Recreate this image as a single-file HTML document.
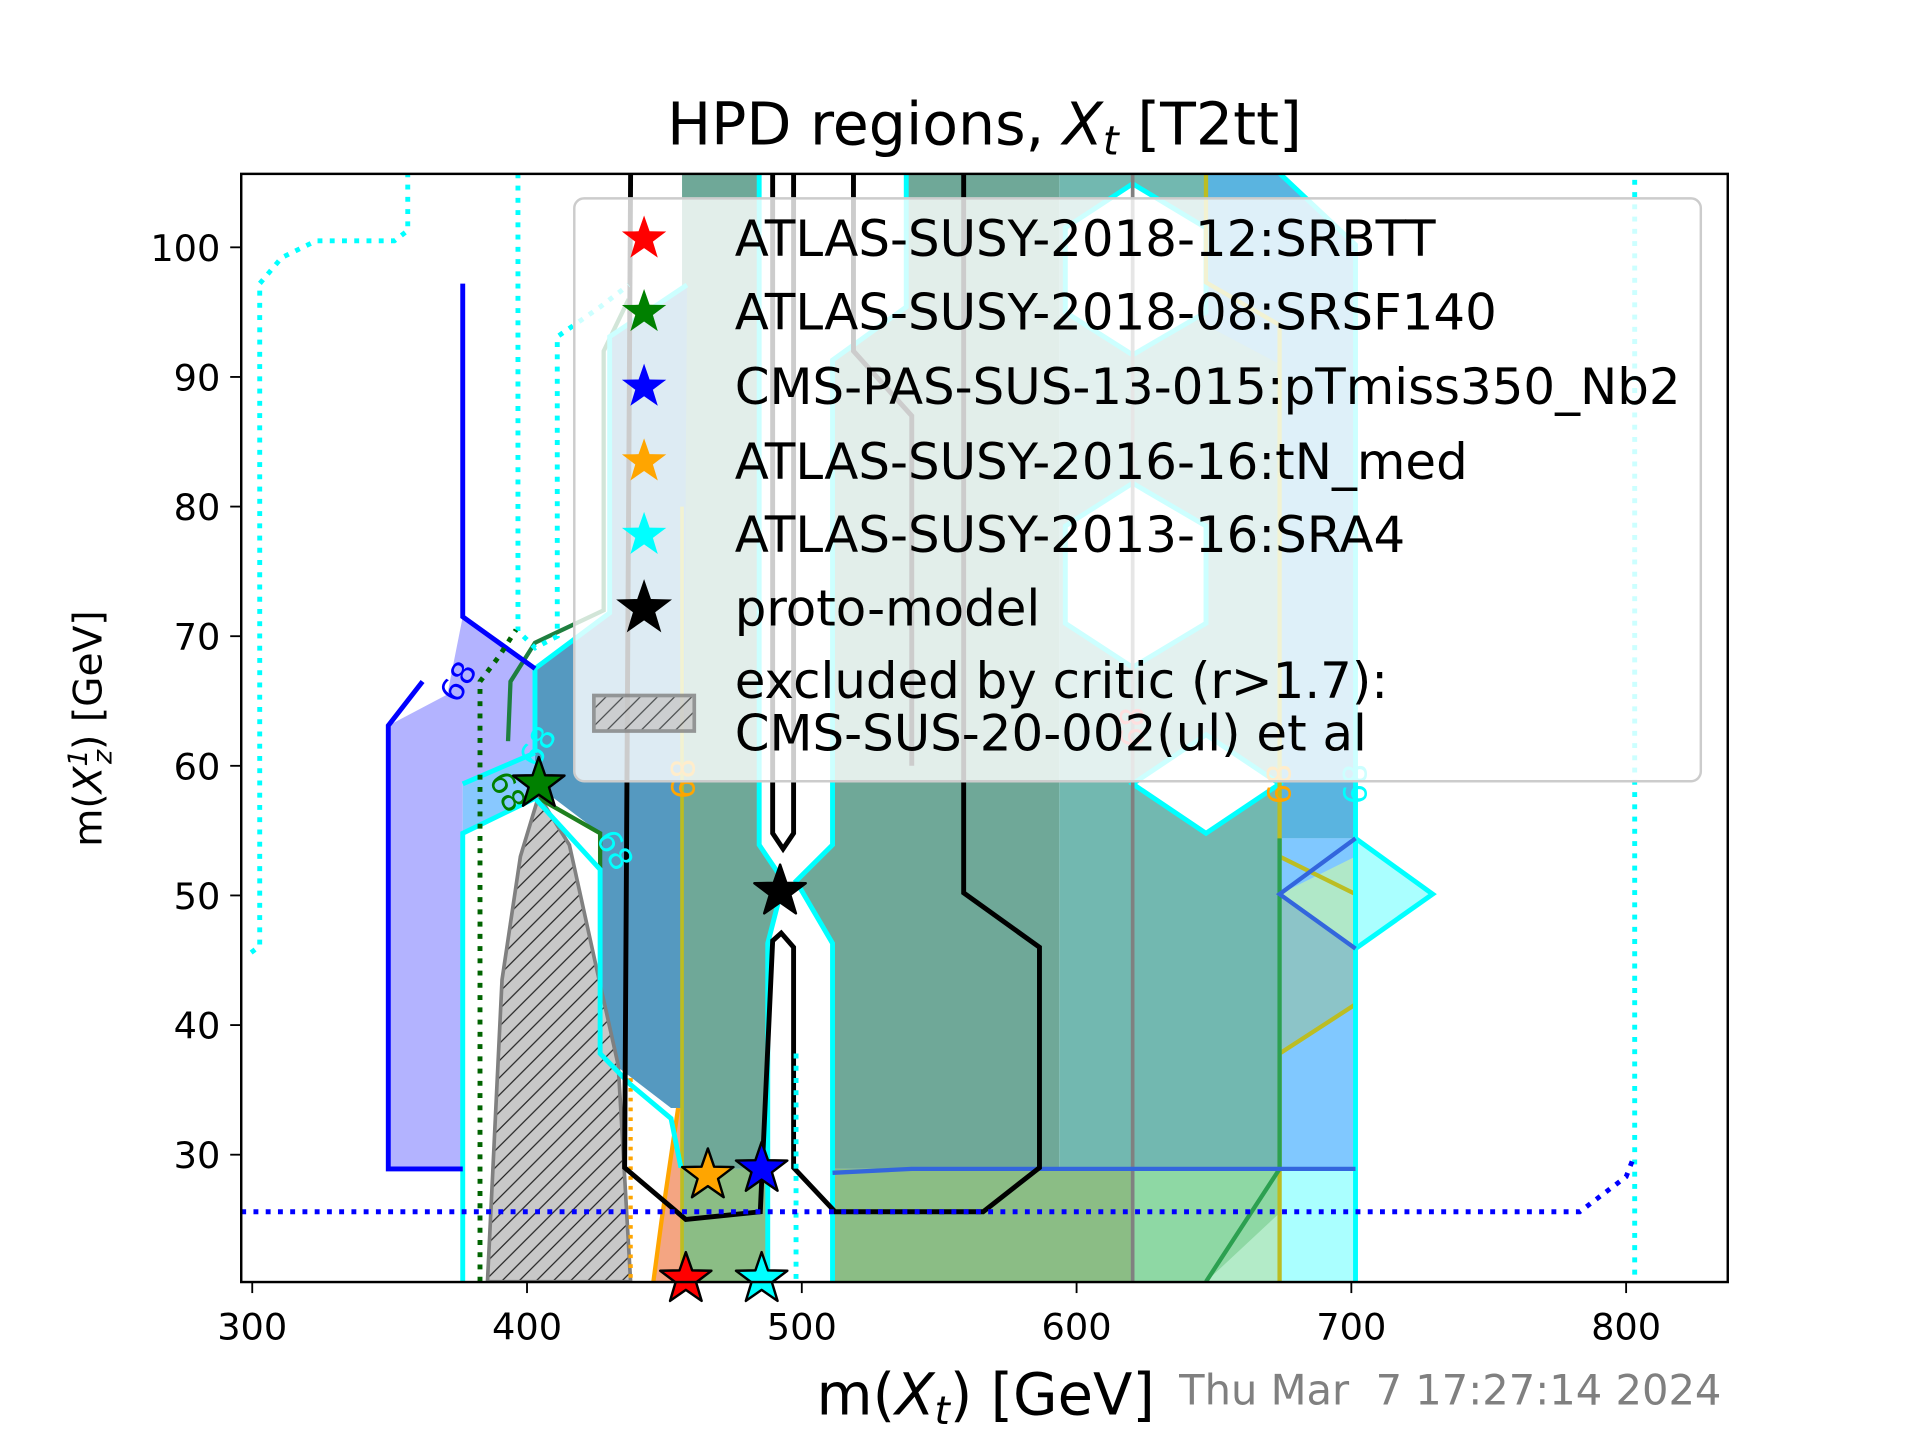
<!DOCTYPE html>
<html><head><meta charset="utf-8">
<style>
html,body{margin:0;padding:0;background:#fff;}
svg{display:block;font-family:"DejaVu Sans","Liberation Sans",sans-serif;}
</style></head>
<body>
<svg id="chart" width="1920" height="1440" viewBox="0 0 1568 1176" xmlns="http://www.w3.org/2000/svg">
<defs>
<clipPath id="plotclip"><rect x="197" y="142" width="1214" height="905"/></clipPath>
<pattern id="hatch" patternUnits="userSpaceOnUse" width="14" height="14">
<rect width="14" height="14" fill="#c8c8c8"/>
<path d="M-4,18 L18,-4 M-4,4 L4,-4 M10,18 L18,10" stroke="#222" stroke-width="1"/>
</pattern>
</defs>
<text x="804" y="118" font-size="47.8" text-anchor="middle">HPD regions, <tspan font-style="italic">X</tspan><tspan font-style="italic" font-size="33" dy="8">t</tspan><tspan dy="-8"> [T2tt]</tspan></text>
<g id="plot" clip-path="url(#plotclip)"></g>
<g id="over"></g>
<rect x="197" y="142" width="1214" height="905" fill="none" stroke="#000" stroke-width="2"/>
<g id="axes"></g>
<text x="805" y="1155" font-size="47" text-anchor="middle">m(<tspan font-style="italic">X</tspan><tspan font-style="italic" font-size="32" dy="8">t</tspan><tspan dy="-8">) [GeV]</tspan></text>
<text transform="translate(83,595) rotate(-90)" font-size="32" text-anchor="middle">m(<tspan font-style="italic">X</tspan><tspan font-style="italic" font-size="22" dy="-12">1</tspan><tspan font-style="italic" font-size="22" dx="-12" dy="20">z</tspan><tspan dy="-8">) [GeV]</tspan></text>
<text x="963" y="1147" font-size="34" fill="#808080" style="white-space:pre" xml:space="preserve">Thu Mar  7 17:27:14 2024</text>
<g id="legend"></g>
</svg>
<script>
// axis data
const xTicks = [300, 400, 500, 600, 700, 800];
const yTicks = [30, 40, 50, 60, 70, 80, 90, 100];
const xRange = [296, 837];
const yRange = [20.2, 105.7];
// region polygons (mass coordinates, GeV)
const lavenderRegion = [[349.5,28.9],[349.5,63.1],[371,65.5],[376.6,71.5],[402.9,67.5],[402.9,58.6],[376.6,58.6],[376.6,28.9]];
const lightBluePatch = [[376.6,54.8],[376.6,58.6],[402.9,61],[402.9,57.5]];
const greyGreenRegion = [[456.4,28.9],[456.4,105.7],[593.7,105.7],[593.7,28.9]];
const steelBlueRegion = [[458.2,97.1],[430.1,93.1],[430.1,71.8],[402.9,67.5],[402.9,58.6],[426.6,54.8],[426.6,37.8],[452.4,33.6],[456.4,33.6]];
const greenBottom = [[456.4,20.2],[456.4,28.9],[620.4,28.9],[620.4,20.2]];
const salmonRegion = [[446,20.2],[449,25],[455,33.6],[456.4,33.6],[456.4,20.2]];
const tealRegion = [[593.7,28.9],[593.7,105.7],[673.9,105.7],[673.9,28.9]];
const lightGreenBottom = [[620.4,20.2],[620.4,28.9],[673.9,28.9],[673.9,20.2]];
const paleGreenTri = [[647.1,20.2],[673.9,25.5],[673.9,20.2]];
const skyTop = [[647.1,105.7],[673.9,105.7],[701.5,100.2],[701.5,54.4],[673.9,54.4],[673.9,91],[647.1,94]];
const skyLower = [[673.9,28.9],[673.9,54.4],[701.5,54.4],[701.5,28.9]];
const greyTealPatch = [[673.9,50.1],[701.5,45.9],[701.5,41.6],[673.9,37.8]];
const diamondGreen = [[673.9,50.1],[701.5,53],[701.5,45.9]];
const cyanDiamond = [[701.5,54.4],[729.6,50.1],[701.5,45.9]];
const cyanBottom = [[673.9,20.2],[673.9,28.9],[701.5,28.9],[701.5,20.2]];
const corridor = [[484.5,105.7],[538,105.7],[538,95.4],[511.2,91.3],[511.2,53.9],[497.9,51.1],[511.2,46.3],[511.2,20.2],[487.6,20.2],[487.6,46.3],[493.4,51.1],[484.5,53.9]];
const hexTop = [[595.9,101.5],[620.4,104.9],[647.1,101.5],[647.1,95],[620.4,91.7],[595.9,95]];
const hexMid = [[595.9,78.5],[620.4,81.8],[647.1,78.5],[647.1,71],[620.4,67.6],[595.9,71]];
const hexDiamond = [[620.4,58.6],[647.1,62.4],[673.9,58.6],[647.1,54.8]];
const criticRegion = [[385.6,20.2],[390.9,43.5],[397.6,53],[404.3,57.7],[415.4,53.9],[425.2,44.5],[433.2,36.9],[437.7,20.2]];
// contour lines
const protoOuter = [[437.7,105.7],[435.5,29],[457.8,25],[484.9,25.6],[489.4,46.5],[492.5,47.1],[497,46],[497,29],[512.1,25.6],[566,25.6],[586.5,29],[586.5,46],[558.9,50.2],[558.9,105.7]];
const protoLoop = [[489.4,105.7],[489.4,54.8],[493.2,53.6],[497,54.8],[497,105.7]];
const protoFaded = [[518.8,105.7],[518.8,92],[540,87],[540,60]];
const blueLine1 = [[376.6,97.2],[376.6,71.5],[402.9,67.5]];
const blueLine2 = [[362,66.5],[349.5,63.1],[349.5,28.9],[376.6,28.9]];
const blueLine3 = [[511.2,28.6],[540,28.9],[701.5,28.9]];
const blueDiamond = [[701.5,54.4],[673.9,50.1],[701.5,45.9]];
const cyanMain = [[376.6,20.2],[376.6,54.8],[402.9,57.5],[426.6,52],[426.6,37.8],[437.7,35.4],[452.4,32.8],[456,29]];
const cyanUpper = [[376.6,58.6],[402.9,61]];
const cyanWall = [[458.2,97.1],[430.1,93.1],[430.1,71.8],[402.9,67.5],[402.9,61]];
const corridorLeft = [[484.5,105.7],[484.5,53.9],[493.4,51.1],[487.6,46.3],[487.6,20.2]];
const corridorRight = [[538,105.7],[538,95.4],[511.2,91.3],[511.2,53.9],[497.9,51.1],[511.2,46.3],[511.2,20.2]];
const cyanRightCol = [[673.9,105.7],[701.5,100.2],[701.5,20.2]];
const greenLine = [[393.1,61.9],[394,66.5],[402.9,69.5],[427.9,72],[427.9,92],[437,96]];
const greenLower = [[404.3,57.5],[426.6,54.8],[426.6,37.8],[437.7,35.4]];
const greenRight = [[673.9,54.4],[673.9,28.9],[647.1,20.2]];
const oliveLeft = [[456.4,80],[456.4,20.2]];
const oliveRight = [[647.1,105.7],[647.1,97.3],[673.9,94],[673.9,53],[701.5,50.1],[701.5,41.6],[673.9,37.8],[673.9,20.2]];
const greyLine = [[620.4,105.7],[620.4,20.2]];
const orangeLine = [[446,20.2],[449,25],[455,33.6]];
const orangeDotted = [[437.7,35.9],[437.7,20.2]];
const cyanDotted1 = [[299.6,45.6],[302.7,46.1],[302.7,97.2],[310.7,99.2],[323.2,100.5],[351.7,100.5],[356.6,101.3],[356.6,105.7]];
const cyanDotted2 = [[396.7,105.7],[396.7,70.4],[403,69.1],[411,70],[411,93.1],[426.6,95.4],[437,97.1]];
const cyanDotted3 = [[803.1,105.2],[803.1,20.2]];
const cyanDotted4 = [[497.9,37.8],[497.9,20.2]];
const greenDotted = [[382.9,20.2],[382.9,66.5],[390,68.5],[396,70.5]];
const blueDotted = [[296,25.6],[783.1,25.6],[800,28.3],[803.1,30]];
// markers
const starNames = ["ATLAS-SUSY-2018-12:SRBTT","ATLAS-SUSY-2018-08:SRSF140","CMS-PAS-SUS-13-015:pTmiss350_Nb2","ATLAS-SUSY-2016-16:tN_med","ATLAS-SUSY-2013-16:SRA4","proto-model"];
const starColors = ["#ff0000","#008000","#0000ff","#ffa500","#00ffff","#000000"];
const starX = [457.8, 404.3, 485.4, 465.8, 485.4, 492.1];
const starY = [20.4, 58.6, 28.9, 28.4, 20.4, 50.3];
// contour labels
const labelText = ["68","68","68","68","68","68","68","68"];
const labelX = [375, 404, 393, 432, 457, 673.9, 701.5, 620.4];
const labelY = [66.5, 61.5, 58, 53.5, 59, 58.6, 58.6, 63];
const labelColors = ["#0000ff","#00ffff","#008000","#00ffff","#ffa500","#ffa500","#00ffff","#ff6060"];
const labelRot = [-60, -60, 60, 60, -90, -90, -90, -90];

const NS = "http://www.w3.org/2000/svg";
function X(v){ return 206 + (v - 300) * 2.244; }
function Y(v){ return 943 - (v - 30) * 10.586; }
function pts(a){ return a.map(p => X(p[0]).toFixed(1) + "," + Y(p[1]).toFixed(1)).join(" "); }
const plot = document.getElementById("plot");
function poly(parent, name, a, fill, stroke, sw){
  const el = document.createElementNS(NS, "polygon");
  
  
  el.setAttribute("points", pts(a));
  el.setAttribute("fill", fill);
  el.setAttribute("stroke", stroke || "none");
  el.setAttribute("stroke-width", sw || 0);
  parent.appendChild(el);
  return el;
}
function line(parent, name, a, stroke, sw, dash){
  const el = document.createElementNS(NS, "polyline");
  
  
  el.setAttribute("points", pts(a));
  el.setAttribute("fill", "none");
  el.setAttribute("stroke", stroke);
  el.setAttribute("stroke-width", sw);
  if (dash) el.setAttribute("stroke-dasharray", dash);
  parent.appendChild(el);
  return el;
}
poly(plot, "grey-green-region", greyGreenRegion, "#6fa898");
poly(plot, "teal-region", tealRegion, "#72b8b0");
poly(plot, "steel-blue-region", steelBlueRegion, "#5599c0");
poly(plot, "green-bottom-region", greenBottom, "#8bbd85");
poly(plot, "salmon-region", salmonRegion, "#f4a582");
poly(plot, "light-green-bottom", lightGreenBottom, "#8ed8a4");
poly(plot, "pale-green-triangle", paleGreenTri, "#b3ebc8");
poly(plot, "sky-top-region", skyTop, "#5ab4e0");
poly(plot, "sky-lower-region", skyLower, "#80c8ff");
poly(plot, "grey-teal-patch", greyTealPatch, "#8cc4c8");
poly(plot, "diamond-green", diamondGreen, "#b0e8c8");
poly(plot, "cyan-diamond", cyanDiamond, "#aaffff", "#00ffff", 4);
poly(plot, "cyan-bottom-region", cyanBottom, "#aaffff");
poly(plot, "lavender-region", lavenderRegion, "#b3b3ff");
poly(plot, "light-blue-patch", lightBluePatch, "#88c8ff");
poly(plot, "proto-corridor", corridor, "#ffffff");
poly(plot, "hex-hole-top", hexTop, "#ffffff", "#00ffff", 4);
poly(plot, "hex-hole-mid", hexMid, "#ffffff", "#00ffff", 4);
poly(plot, "hex-hole-diamond", hexDiamond, "#ffffff", "#00ffff", 4);
poly(plot, "critic-excluded-region", criticRegion, "url(#hatch)", "#808080", 3);
line(plot, "grey-contour", greyLine, "#808080", 3);
line(plot, "olive-contour-left", oliveLeft, "#bcbd22", 3);
line(plot, "olive-contour-right", oliveRight, "#bcbd22", 3.5);
line(plot, "green-contour", greenLine, "#1f7f3f", 3.5);
line(plot, "green-contour-lower", greenLower, "#1f7f1f", 3.5);
line(plot, "green-contour-right", greenRight, "#2ca050", 3.5);
line(plot, "orange-contour", orangeLine, "#ffa500", 3.5);
line(plot, "orange-dotted", orangeDotted, "#ffa500", 3.5, "3,5");
line(plot, "cyan-contour-main", cyanMain, "#00ffff", 4);
line(plot, "cyan-contour-upper", cyanUpper, "#00ffff", 4);
line(plot, "cyan-wall", cyanWall, "#00ffff", 4);
line(plot, "corridor-left", corridorLeft, "#00ffff", 4);
line(plot, "corridor-right", corridorRight, "#00ffff", 4);
line(plot, "cyan-right-column", cyanRightCol, "#00ffff", 4);
line(plot, "blue-contour-1", blueLine1, "#0000ff", 4);
line(plot, "blue-contour-2", blueLine2, "#0000ff", 4);
line(plot, "blue-contour-3", blueLine3, "#3366dd", 3.5);
line(plot, "blue-diamond", blueDiamond, "#3366dd", 3.5);
line(plot, "proto-outer-contour", protoOuter, "#000000", 4);
line(plot, "proto-loop-contour", protoLoop, "#000000", 4);
line(plot, "proto-faded-contour", protoFaded, "#000000", 4);
line(plot, "cyan-dotted-1", cyanDotted1, "#00ffff", 4, "4,6");
line(plot, "cyan-dotted-2", cyanDotted2, "#00ffff", 4, "4,6");
line(plot, "cyan-dotted-3", cyanDotted3, "#00ffff", 4, "4,6");
line(plot, "cyan-dotted-4", cyanDotted4, "#00ffff", 4, "4,6");
line(plot, "green-dotted", greenDotted, "#006400", 4, "4,6");
line(plot, "blue-dotted", blueDotted, "#0000ff", 4, "4,6");
for (let i = 0; i < labelText.length; i++) {
  const t = document.createElementNS(NS, "text");
  
  
  t.setAttribute("x", X(labelX[i]));
  t.setAttribute("y", Y(labelY[i]));
  t.setAttribute("font-size", "26");
  t.setAttribute("fill", labelColors[i]);
  t.setAttribute("text-anchor", "middle");
  t.setAttribute("dominant-baseline", "central");
  t.setAttribute("transform", "rotate(" + labelRot[i] + " " + X(labelX[i]) + " " + Y(labelY[i]) + ")");
  t.textContent = labelText[i];
  plot.appendChild(t);
}
function starPath(cx, cy, R){
  const r = R * 0.4; let d = "";
  for (let k = 0; k < 10; k++) {
    const a = -Math.PI / 2 + k * Math.PI / 5;
    const rr = k % 2 ? r : R;
    d += (k ? "L" : "M") + (cx + rr * Math.cos(a)).toFixed(1) + "," + (cy + rr * Math.sin(a)).toFixed(1);
  }
  return d + "Z";
}
const over = document.getElementById("over");
for (let i = 0; i < starX.length; i++) {
  const s = document.createElementNS(NS, "path");
  
  
  s.setAttribute("d", starPath(X(starX[i]), Y(starY[i]), 22));
  s.setAttribute("fill", starColors[i]);
  s.setAttribute("stroke", "#000");
  s.setAttribute("stroke-width", "2");
  s.setAttribute("stroke-linejoin", "round");
  over.appendChild(s);
}
const axes = document.getElementById("axes");
for (const v of xTicks) {
  const tk = document.createElementNS(NS, "line");
  
  
  tk.setAttribute("x1", X(v)); tk.setAttribute("x2", X(v));
  tk.setAttribute("y1", 1047); tk.setAttribute("y2", 1056);
  tk.setAttribute("stroke", "#000"); tk.setAttribute("stroke-width", "1.5");
  axes.appendChild(tk);
  const lb = document.createElementNS(NS, "text");
  
  
  lb.setAttribute("x", X(v)); lb.setAttribute("y", 1094);
  lb.setAttribute("font-size", "30"); lb.setAttribute("text-anchor", "middle");
  lb.textContent = v;
  axes.appendChild(lb);
}
for (const v of yTicks) {
  const tk = document.createElementNS(NS, "line");
  
  
  tk.setAttribute("x1", 188); tk.setAttribute("x2", 197);
  tk.setAttribute("y1", Y(v)); tk.setAttribute("y2", Y(v));
  tk.setAttribute("stroke", "#000"); tk.setAttribute("stroke-width", "1.5");
  axes.appendChild(tk);
  const lb = document.createElementNS(NS, "text");
  
  
  lb.setAttribute("x", 180); lb.setAttribute("y", Y(v) + 11);
  lb.setAttribute("font-size", "30"); lb.setAttribute("text-anchor", "end");
  lb.textContent = v;
  axes.appendChild(lb);
}
const lg = document.getElementById("legend");
const box = document.createElementNS(NS, "rect");


box.setAttribute("x", 469); box.setAttribute("y", 162);
box.setAttribute("width", 920); box.setAttribute("height", 476);
box.setAttribute("rx", 8);
box.setAttribute("fill", "rgba(255,255,255,0.8)");
box.setAttribute("stroke", "#cccccc"); box.setAttribute("stroke-width", "2");
lg.appendChild(box);
const rowY = [195, 255, 316, 377, 437, 497];
for (let i = 0; i < starNames.length; i++) {
  const s = document.createElementNS(NS, "path");
  
  
  s.setAttribute("d", starPath(526, rowY[i], i === 5 ? 24 : 19));
  s.setAttribute("fill", starColors[i]);
  lg.appendChild(s);
  const t = document.createElementNS(NS, "text");
  
  
  t.setAttribute("x", 600); t.setAttribute("y", rowY[i] + 14);
  t.setAttribute("font-size", "40.7");
  t.textContent = starNames[i];
  lg.appendChild(t);
}
const hp = document.createElementNS(NS, "rect");


hp.setAttribute("x", 485); hp.setAttribute("y", 568);
hp.setAttribute("width", 82); hp.setAttribute("height", 29);
hp.setAttribute("fill", "url(#hatch)"); hp.setAttribute("stroke", "#808080"); hp.setAttribute("stroke-width", "3");
hp.setAttribute("opacity", "0.8");
lg.appendChild(hp);
const ex1 = document.createElementNS(NS, "text");


ex1.setAttribute("x", 600); ex1.setAttribute("y", 570); ex1.setAttribute("font-size", "40.7");
ex1.textContent = "excluded by critic (r>1.7):";
lg.appendChild(ex1);
const ex2 = document.createElementNS(NS, "text");


ex2.setAttribute("x", 600); ex2.setAttribute("y", 613); ex2.setAttribute("font-size", "40.7");
ex2.textContent = "CMS-SUS-20-002(ul) et al";
lg.appendChild(ex2);
</script>
</body></html>
